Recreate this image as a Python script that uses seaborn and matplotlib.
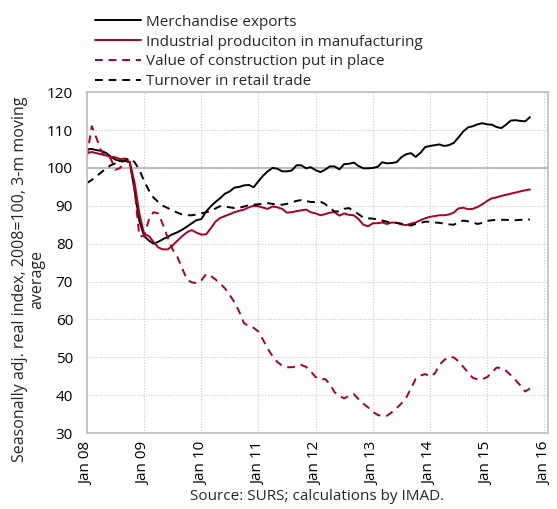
import numpy as np
import pandas as pd
import matplotlib
matplotlib.use("Agg")
import matplotlib.pyplot as plt
import matplotlib.dates as mdates
import seaborn as sns

# monthly data, Jan 2008 - Oct 2015
months = pd.date_range("2008-01-01", periods=94, freq="MS")

exports = [104.9, 105.0, 104.7, 104.5, 104.0, 103.0, 102.2, 101.8, 101.8, 101.5,
           94.0, 86.0, 82.0, 80.8, 80.0, 80.5, 81.2, 81.8, 82.5, 83.0,
           83.7, 84.5, 85.4, 86.2, 86.5, 88.5, 89.8, 91.0, 92.0, 93.2,
           93.8, 94.8, 95.0, 95.4, 95.5, 94.9, 96.5, 98.0, 99.1, 100.0,
           99.8, 99.1, 99.1, 99.3, 100.7, 100.7, 99.9, 100.2, 99.4, 98.9,
           99.5, 100.4, 100.4, 99.6, 101.0, 101.1, 101.4, 100.5, 99.9, 99.9,
           100.0, 100.3, 101.5, 101.2, 101.3, 101.5, 102.8, 103.6, 103.9, 102.9,
           104.0, 105.5, 105.8, 106.0, 106.2, 105.8, 106.0, 106.6, 108.0, 109.6,
           110.7, 111.0, 111.5, 111.8, 111.5, 111.4, 110.8, 110.5, 111.4, 112.5,
           112.6, 112.4, 112.3, 113.4]

manufacturing = [103.9, 104.2, 103.9, 103.6, 103.3, 102.9, 102.8, 102.3, 102.5, 101.5,
                 96.0, 88.0, 82.5, 82.0, 80.5, 79.0, 78.5, 78.5, 79.5, 80.8,
                 82.0, 83.0, 83.6, 82.9, 82.4, 82.5, 84.0, 85.8, 86.8, 87.3,
                 87.8, 88.3, 88.7, 89.0, 89.6, 90.0, 89.9, 89.5, 89.2, 89.8,
                 89.6, 89.2, 88.2, 88.3, 88.6, 88.8, 89.0, 88.3, 88.0, 87.5,
                 87.8, 88.2, 88.3, 87.4, 88.0, 87.6, 87.5, 86.5, 85.0, 84.6,
                 85.4, 85.4, 85.6, 85.2, 85.6, 85.5, 85.1, 84.9, 85.3, 85.6,
                 86.2, 86.7, 87.1, 87.3, 87.5, 87.5, 87.7, 88.2, 89.3, 89.5,
                 89.1, 89.2, 89.7, 90.4, 91.3, 92.0, 92.2, 92.6, 92.9, 93.2,
                 93.5, 93.8, 94.1, 94.3]

construction = [103.0, 111.0, 108.0, 104.5, 103.0, 102.5, 99.5, 100.0, 102.0, 101.5,
                94.0, 82.0, 82.0, 86.5, 88.3, 88.0, 85.0, 81.5, 78.5, 76.5,
                73.5, 70.5, 69.8, 69.6, 70.3, 72.0, 71.5, 70.6, 69.5, 68.2,
                66.5, 64.5, 62.0, 59.0, 58.2, 57.8, 56.8, 54.5, 52.3, 50.3,
                48.8, 47.8, 47.4, 47.4, 47.6, 48.0, 47.5, 46.3, 44.8, 44.1,
                44.3, 43.0, 40.8, 39.8, 39.2, 39.8, 40.3, 39.0, 37.8, 36.8,
                35.6, 34.8, 34.5, 34.6, 35.5, 36.6, 37.8, 39.3, 41.8, 44.3,
                45.2, 45.6, 44.9, 45.8, 48.0, 49.3, 50.1, 50.0, 49.0, 47.5,
                46.0, 44.6, 44.2, 44.2, 44.8, 46.0, 47.3, 47.2, 46.5, 45.3,
                44.0, 42.6, 41.0, 41.8]

retail = [96.0, 96.8, 97.8, 98.8, 99.8, 100.7, 101.2, 101.5, 102.0, 102.6,
          101.5, 99.5, 96.5, 94.0, 92.2, 91.0, 90.0, 89.4, 88.8, 88.2,
          87.7, 87.5, 87.5, 87.7, 88.0, 88.3, 88.6, 89.3, 89.9, 89.8,
          89.6, 89.4, 89.5, 89.8, 90.2, 90.3, 90.4, 90.6, 90.7, 90.5,
          90.2, 90.3, 90.5, 90.9, 91.3, 91.5, 91.3, 91.0, 91.0, 91.1,
          90.5, 89.4, 88.5, 88.5, 89.2, 89.4, 88.6, 87.8, 86.9, 86.7,
          86.6, 86.4, 86.1, 85.8, 85.6, 85.5, 85.3, 85.0, 84.8, 85.2,
          85.5, 85.8, 85.8, 85.6, 85.5, 85.3, 85.1, 85.0, 85.6, 86.1,
          85.9, 85.6, 85.2, 85.5, 86.0, 86.2, 86.3, 86.3, 86.3, 86.2,
          86.2, 86.3, 86.3, 86.4]

sns.set_style("white")
plt.rcParams["font.family"] = ["Open Sans", "DejaVu Sans"]

red = "#a8001e"
fig = plt.figure(figsize=(5.57, 5.09), dpi=100)
ax = fig.add_axes([0.156, 0.149, 0.828, 0.670])

sns.lineplot(x=months, y=exports, color="black", lw=1.4, label="Merchandise exports", ax=ax)
sns.lineplot(x=months, y=manufacturing, color=red, lw=1.4,
             label="Industrial produciton in manufacturing", ax=ax)
sns.lineplot(x=months, y=construction, color=red, lw=1.4,
             label="Value of construction put in place", ax=ax)
sns.lineplot(x=months, y=retail, color="black", lw=1.4,
             label="Turnover in retail trade", ax=ax)
# dashed style for the two dashed lines
ax.lines[2].set_linestyle((0, (4, 3)))
ax.lines[3].set_linestyle((0, (4, 3)))

ax.set_xlim(pd.Timestamp("2008-01-01"), pd.Timestamp("2016-01-25"))
ax.set_ylim(30, 120)
ax.set_yticks(range(30, 121, 10))
ax.xaxis.set_major_locator(mdates.YearLocator())
ax.xaxis.set_major_formatter(mdates.DateFormatter("%b %y"))
plt.setp(ax.get_xticklabels(), rotation=90)
ax.tick_params(axis="both", length=0, labelsize=11, colors="black")
ax.tick_params(axis="y", pad=10)
ax.tick_params(axis="x", pad=6)

ax.grid(True, color="#c8c8c8", linestyle=(0, (1, 1.5)), lw=0.8)
ax.axhline(100, color="#bdbdbd", lw=1.5, zorder=1)
for s in ax.spines.values():
    s.set_color("#bdbdbd")
    s.set_linewidth(1.2)

ax.set_xlabel("")
ax.set_ylabel("Seasonally adj. real index, 2008=100, 3-m moving\naverage", fontsize=11.5,
              linespacing=1.1)
ax.yaxis.set_label_coords(-0.09, 0.45)

ax.legend(loc="upper left", bbox_to_anchor=(0.005, 1.245), frameon=False, fontsize=11,
          handlelength=3.0, handletextpad=0.3, labelspacing=0.32, borderaxespad=0)

fig.text(0.57, 0.018, "Source: SURS; calculations by IMAD.", ha="center", fontsize=11)

fig.savefig("out.png", dpi=100)
